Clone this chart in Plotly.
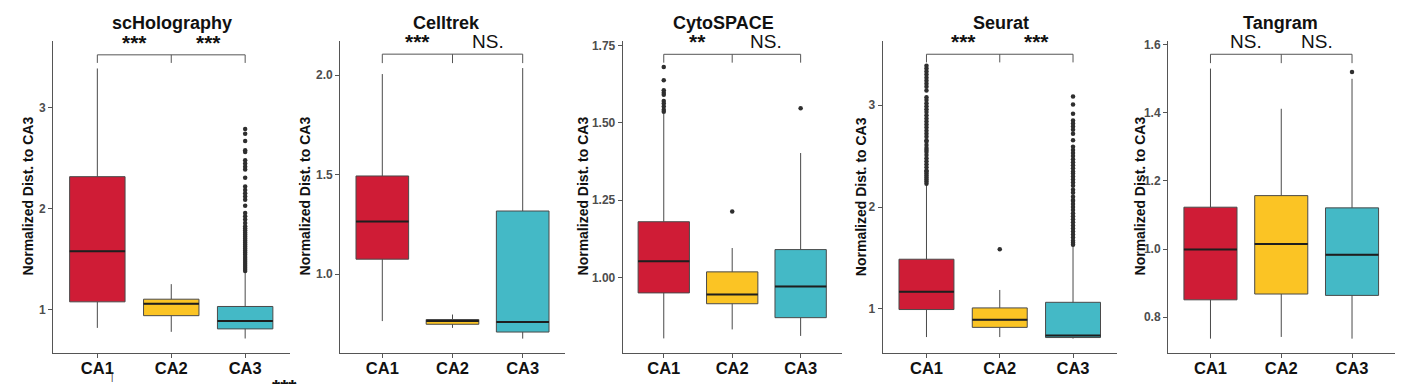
import plotly.graph_objects as go

W, H = 1411, 384

categories = ["CA1", "CA2", "CA3"]
methods = ["scHolography", "Celltrek", "CytoSPACE", "Seurat", "Tangram"]
box_colors = ["#CF1C36", "#FBC424", "#44B9C6"]
y_title = "Normalized Dist. to CA3"

# ---- scHolography ----
sch_q1 = [1.075, 0.938, 0.807]
sch_med = [1.576, 1.056, 0.886]
sch_q3 = [2.314, 1.101, 1.029]
sch_lo = [0.817, 0.778, 0.712]
sch_hi = [3.385, 1.250, 1.365]
sch_out_ca1 = []
sch_out_ca2 = []
sch_out_ca3 = [2.787, 2.738, 2.667, 2.575, 2.559, 2.477, 2.444, 2.412, 2.385, 2.304,
               2.216, 2.183, 2.150, 2.118, 2.085, 2.026, 1.954, 1.922, 1.889, 1.856,
               1.824, 1.80, 1.78, 1.76, 1.74, 1.72, 1.70, 1.68, 1.66, 1.64, 1.62,
               1.60, 1.58, 1.56, 1.54, 1.52, 1.50, 1.48, 1.46, 1.44, 1.42, 1.40, 1.38]
sch_sig = ["***", "***"]

# ---- Celltrek ----
ct_q1 = [1.075, 0.748, 0.709]
ct_med = [1.264, 0.764, 0.759]
ct_q3 = [1.493, 0.772, 1.317]
ct_lo = [0.764, 0.730, 0.676]
ct_hi = [2.005, 0.797, 2.035]
ct_out_ca1 = []
ct_out_ca2 = []
ct_out_ca3 = []
ct_sig = ["***", "NS."]

# ---- CytoSPACE ----
cy_q1 = [0.950, 0.915, 0.870]
cy_med = [1.052, 0.945, 0.971]
cy_q3 = [1.180, 1.018, 1.090]
cy_lo = [0.803, 0.832, 0.811]
cy_hi = [1.529, 1.095, 1.402]
cy_out_ca1 = [1.680, 1.637, 1.605, 1.597, 1.590, 1.570, 1.562, 1.552, 1.542, 1.535]
cy_out_ca2 = [1.213]
cy_out_ca3 = [1.547]
cy_sig = ["**", "NS."]

# ---- Seurat ----
se_q1 = [0.994, 0.819, 0.719]
se_med = [1.169, 0.894, 0.738]
se_q3 = [1.488, 1.010, 1.065]
se_lo = [0.724, 0.724, 0.709]
se_hi = [2.218, 1.186, 1.620]
se_out_ca1 = [3.387, 3.36, 3.33, 3.30, 3.27, 3.24, 3.21, 3.18, 3.143, 3.078, 3.05, 3.02,
              2.99, 2.96, 2.932, 2.90, 2.87, 2.84, 2.81, 2.78, 2.75, 2.72, 2.69, 2.656,
              2.64, 2.61, 2.58, 2.56, 2.54, 2.51, 2.48, 2.45, 2.42, 2.39, 2.36, 2.35,
              2.33, 2.31, 2.29, 2.27, 2.25, 2.23]
se_out_ca2 = [1.585]
se_out_ca3 = [3.085, 3.007, 2.916, 2.85, 2.82, 2.79, 2.76, 2.72, 2.656, 2.591, 2.56,
              2.53, 2.50, 2.47, 2.44, 2.41, 2.38, 2.35, 2.33, 2.30, 2.27, 2.24, 2.21,
              2.17, 2.14, 2.10, 2.07, 2.06, 2.03, 2.00, 1.97, 1.94, 1.91, 1.88, 1.85,
              1.82, 1.79, 1.76, 1.73, 1.70, 1.67, 1.65, 1.63]
se_sig = ["***", "***"]

# ---- Tangram ----
tg_q1 = [0.851, 0.868, 0.864]
tg_med = [0.999, 1.015, 0.983]
tg_q3 = [1.123, 1.157, 1.121]
tg_lo = [0.737, 0.742, 0.737]
tg_hi = [1.530, 1.412, 1.500]
tg_out_ca1 = []
tg_out_ca2 = []
tg_out_ca3 = [1.520]
tg_sig = ["NS.", "NS."]

# axis settings per panel
y_ranges = [[0.569, 3.657], [0.604, 2.171], [0.756, 1.764], [0.568, 3.630], [0.695, 1.611]]
y_tickvals = [[1, 2, 3], [1.0, 1.5, 2.0], [1.00, 1.25, 1.50, 1.75], [1, 2, 3], [0.8, 1.0, 1.2, 1.4, 1.6]]
y_ticktext = [["1", "2", "3"], ["1.0", "1.5", "2.0"], ["1.00", "1.25", "1.50", "1.75"],
              ["1", "2", "3"], ["0.8", "1.0", "1.2", "1.4", "1.6"]]
bracket_y = [3.52, 2.105, 1.721, 3.50, 1.572]
bracket_tip = [3.44, 2.060, 1.694, 3.42, 1.546]

# layout geometry (pixels)
x_domains_px = [(53.0, 289.5), (340.2, 564.8), (622.7, 841.7), (882.5, 1117.0), (1168.0, 1394.5)]
y_domain_px = (38.3, 352.7)
title_x_px = [171.7, 446.7, 723.3, 1001.0, 1280.0]
ytitle_x_px = [28.0, 305.0, 583.0, 861.7, 1140.0]

panels = [
    (sch_q1, sch_med, sch_q3, sch_lo, sch_hi, [sch_out_ca1, sch_out_ca2, sch_out_ca3], sch_sig),
    (ct_q1, ct_med, ct_q3, ct_lo, ct_hi, [ct_out_ca1, ct_out_ca2, ct_out_ca3], ct_sig),
    (cy_q1, cy_med, cy_q3, cy_lo, cy_hi, [cy_out_ca1, cy_out_ca2, cy_out_ca3], cy_sig),
    (se_q1, se_med, se_q3, se_lo, se_hi, [se_out_ca1, se_out_ca2, se_out_ca3], se_sig),
    (tg_q1, tg_med, tg_q3, tg_lo, tg_hi, [tg_out_ca1, tg_out_ca2, tg_out_ca3], tg_sig),
]

BOX_W = 0.75
fig = go.Figure()
layout = dict(width=W, height=H, margin=dict(l=0, r=0, t=0, b=0),
              paper_bgcolor="white", plot_bgcolor="white", showlegend=False,
              font=dict(family="Liberation Sans, Arial, sans-serif"))
annotations = []

def px_x(v):
    return v / W

def px_y(v):
    return 1 - v / H

for p, (q1, med, q3, lo, hi, outs, sig) in enumerate(panels):
    k = "" if p == 0 else str(p + 1)
    xa, ya = "x" + k, "y" + k
    xpos = list(range(1, len(categories) + 1))
    for i, cat in enumerate(categories):
        fig.add_trace(go.Box(
            x=[xpos[i]], q1=[q1[i]], median=[med[i]], q3=[q3[i]],
            lowerfence=[lo[i]], upperfence=[hi[i]], width=BOX_W, whiskerwidth=0,
            fillcolor=box_colors[i], line=dict(color="#4a4a4a", width=1),
            boxpoints=False, xaxis=xa, yaxis=ya, hoverinfo="skip"))
        # thicker median line
        fig.add_trace(go.Scatter(
            x=[xpos[i] - BOX_W / 2, xpos[i] + BOX_W / 2], y=[med[i], med[i]],
            mode="lines", line=dict(color="#1e1e1e", width=2), xaxis=xa, yaxis=ya,
            hoverinfo="skip"))
        if outs[i]:
            fig.add_trace(go.Scatter(
                x=[xpos[i]] * len(outs[i]), y=outs[i], mode="markers",
                marker=dict(color="#2f2f2f", size=4.5), xaxis=xa, yaxis=ya,
                hoverinfo="skip"))
    # significance bracket
    by, bt = bracket_y[p], bracket_tip[p]
    fig.add_trace(go.Scatter(
        x=[xpos[0], xpos[0], xpos[2], xpos[2], None, xpos[1], xpos[1]],
        y=[bt, by, by, bt, None, by, bt],
        mode="lines", line=dict(color="#555555", width=1), xaxis=xa, yaxis=ya,
        hoverinfo="skip"))
    for j, s in enumerate(sig):
        is_star = s.startswith("*")
        annotations.append(dict(
            x=(xpos[j] + xpos[j + 1]) / 2, y=by, xref=xa, yref=ya,
            text=("<b>" + s + "</b>") if is_star else s,
            showarrow=False, yanchor="bottom", xanchor="center",
            yshift=-1 if is_star else 0,
            font=dict(size=21 if is_star else 19, color="#111111")))
    dom = [px_x(x_domains_px[p][0]), px_x(x_domains_px[p][1])]
    layout["xaxis" + k] = dict(
        domain=dom, range=[0.4, 3.6], tickvals=xpos, ticktext=categories,
        showline=True, linecolor="#555555", linewidth=1, ticks="outside",
        ticklen=4, tickcolor="#555555", showgrid=False, zeroline=False,
        ticklabelstandoff=-4,
        tickfont=dict(size=16.5, color="#111111", weight="bold"), anchor=ya,
        fixedrange=True)
    layout["yaxis" + k] = dict(
        domain=[px_y(y_domain_px[1]), px_y(y_domain_px[0])], range=y_ranges[p],
        tickvals=y_tickvals[p], ticktext=y_ticktext[p], showline=True,
        linecolor="#555555", linewidth=1, ticks="outside", ticklen=4,
        tickcolor="#555555", showgrid=False, zeroline=False,
        tickfont=dict(size=12, color="#4d4d4d", weight="bold"), anchor=xa,
        fixedrange=True)
    annotations.append(dict(
        x=px_x(title_x_px[p]), y=px_y(32), xref="paper", yref="paper",
        text="<b>" + methods[p] + "</b>", showarrow=False, xanchor="center",
        yanchor="bottom", font=dict(size=18, color="#111111")))
    annotations.append(dict(
        x=px_x(ytitle_x_px[p]), y=px_y(195), xref="paper", yref="paper",
        text="<b>" + y_title + "</b>", showarrow=False, textangle=-90,
        xanchor="center", yanchor="middle", font=dict(size=14, color="#111111")))

# stray fragments visible at the cropped edges of the reference
annotations.append(dict(x=px_x(284), y=px_y(373), xref="paper", yref="paper",
                        text="<b>***</b>", showarrow=False, xanchor="center", yanchor="top",
                        font=dict(size=21, color="#111111")))
annotations.append(dict(x=px_x(112), y=px_y(384), xref="paper", yref="paper",
                        text="|", showarrow=False, xanchor="center", yanchor="bottom",
                        font=dict(size=9, color="#333333")))

layout["annotations"] = annotations
fig.update_layout(**layout)
fig.write_html("out.html", config={"displayModeBar": False},
               post_script="document.body.style.margin='0';document.body.style.overflow='hidden';")
